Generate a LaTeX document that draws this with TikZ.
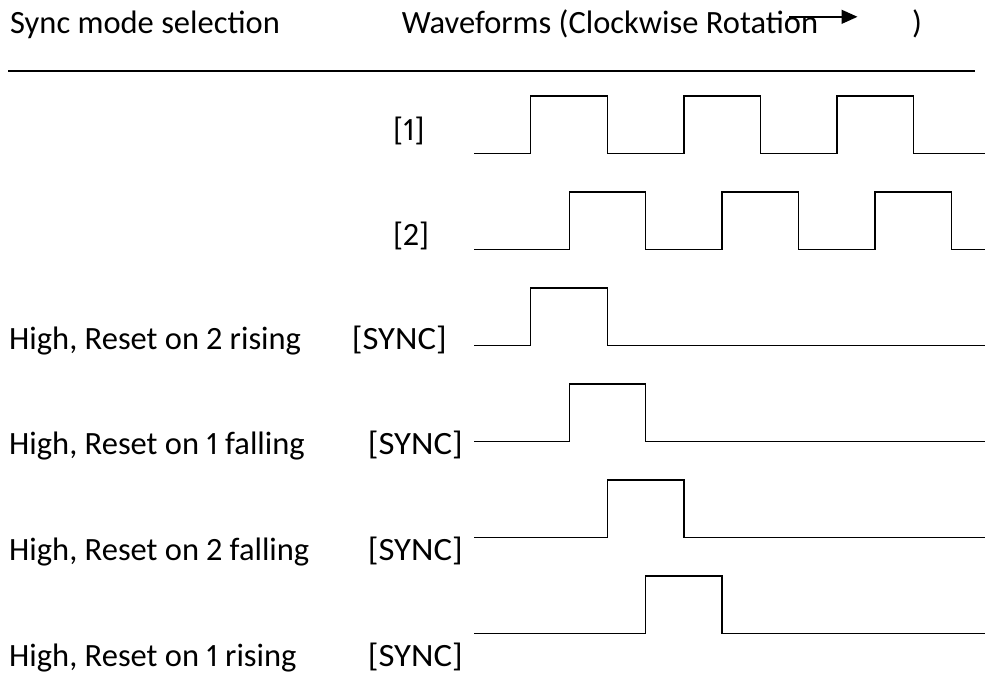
\documentclass[tikz,border=0pt]{standalone}
\usepackage{fontspec}
\usepackage{graphicx}
\setmainfont{Carlito}[Numbers=Proportional]
\usetikzlibrary{arrows.meta}
\tikzset{
  lbl/.style={inner sep=0pt, anchor=base west, font=\fontsize{32.5}{39}\selectfont},
  wave/.style={line width=1.4pt, line join=miter},
  rule/.style={line width=1.6pt}
}
\newcommand{\synctag}{\scalebox{1.07}[1]{[SYNC]}}
\begin{document}
\begin{tikzpicture}[x=1pt,y=-1pt]
\useasboundingbox (0,0) rectangle (985,673);
% header
\node[lbl] (hsel) at (10,33.3) {Sync mode selection};
\node[lbl] (hwav) at (401.7,33.3) {Waveforms (Clockwise Rotation};
\node[lbl] (hpar) at (912,33.3) {)};
\coordinate (arS) at (789,16.8);
\coordinate (arE) at (857.5,16.8);
\draw[line width=1.5pt,-{Triangle[length=16pt,width=14pt]}] (arS) -- (arE);
\coordinate (ruleL) at (8,70.7);
\coordinate (ruleR) at (975,70.7);
\draw[rule] (ruleL) -- (ruleR);
% signal labels
\node[lbl] (l1) at (393,140) {[1]};
\node[lbl] (l2) at (393,245) {[2]};
\node[lbl] (m1) at (9,349.5) {High, Reset on 2 rising};
\node[lbl] (s1) at (351.7,349.5) {\synctag};
\node[lbl] (m2) at (9,454.3) {High, Reset on 1 falling};
\node[lbl] (s2) at (367.7,454.3) {\synctag};
\node[lbl] (m3) at (9,560) {High, Reset on 2 falling};
\node[lbl] (s3) at (367.7,560) {\synctag};
\node[lbl] (m4) at (9,666.7) {High, Reset on 1 rising};
\node[lbl] (s4) at (367.7,666.7) {\synctag};
% waveform [1]
\draw[wave] (474,153.4) -- (530.5,153.4) -- (530.5,95.8) -- (607.3,95.8) -- (607.3,153.4)
  -- (683.8,153.4) -- (683.8,95.8) -- (760.6,95.8) -- (760.6,153.4)
  -- (837.1,153.4) -- (837.1,95.8) -- (913.6,95.8) -- (913.6,153.4) -- (985,153.4);
% waveform [2]
\draw[wave] (474,249.4) -- (569.2,249.4) -- (569.2,191.9) -- (645.7,191.9) -- (645.7,249.4)
  -- (722.1,249.4) -- (722.1,191.9) -- (798.7,191.9) -- (798.7,249.4)
  -- (875.1,249.4) -- (875.1,191.9) -- (951.5,191.9) -- (951.5,249.4) -- (985,249.4);
% sync 1
\draw[wave] (474,345.6) -- (530.5,345.6) -- (530.5,288.1) -- (607.3,288.1) -- (607.3,345.6) -- (985,345.6);
% sync 2
\draw[wave] (474,441.6) -- (569.2,441.6) -- (569.2,384.1) -- (645.7,384.1) -- (645.7,441.6) -- (985,441.6);
% sync 3
\draw[wave] (474,537.6) -- (607.3,537.6) -- (607.3,480.1) -- (683.8,480.1) -- (683.8,537.6) -- (985,537.6);
% sync 4
\draw[wave] (474,633.4) -- (645.7,633.4) -- (645.7,575.9) -- (722.1,575.9) -- (722.1,633.4) -- (985,633.4);
\end{tikzpicture}
\end{document}
